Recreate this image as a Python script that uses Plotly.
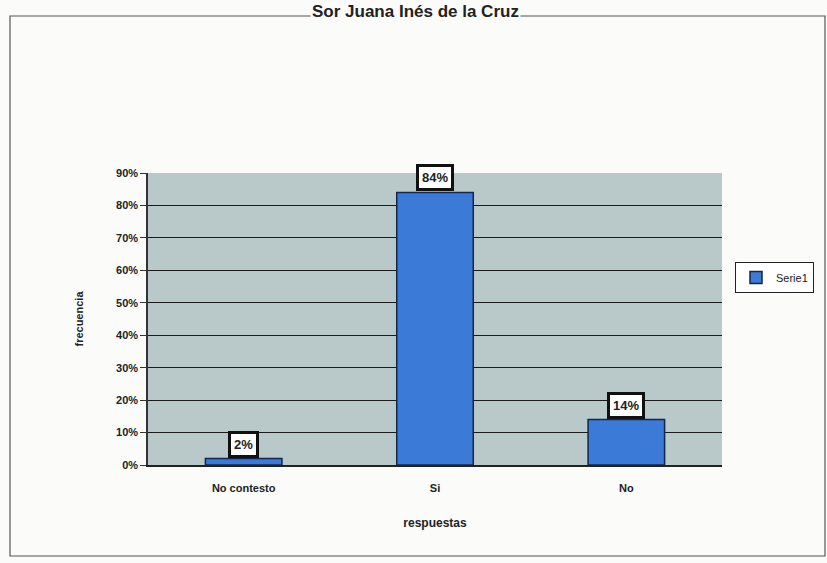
import plotly.graph_objects as go

categories = ["No contesto", "Si", "No"]
values = [2, 84, 14]
labels = ["2%", "84%", "14%"]
series_name = "Serie1"
title_text = "Sor Juana Inés de la Cruz"
y_ticks = [0, 10, 20, 30, 40, 50, 60, 70, 80, 90]

W, H = 827, 563
L, R, T, B = 148, 105, 173, 98
pw, ph = W - L - R, H - T - B

def px_x(p):
    return (p - L) / pw

def px_y(p):
    return (H - B - p) / ph

fig = go.Figure()
fig.add_trace(go.Bar(
    x=categories, y=values, name=series_name,
    marker=dict(color="#3b7ad6", line=dict(color="#14264a", width=1.5)),
    width=0.4, showlegend=True,
))

annotations = []
for c, v, t in zip(categories, values, labels):
    annotations.append(dict(
        x=c, y=v, xref="x", yref="y", text="<b>" + t + "</b>", showarrow=False,
        yanchor="bottom", yshift=1, font=dict(family="Arial", size=13, color="#222"),
        bgcolor="white", bordercolor="#111", borderwidth=3, borderpad=3,
    ))
annotations.append(dict(
    x=px_x(415), y=px_y(12), xref="paper", yref="paper", text="<b>" + title_text + "</b>",
    showarrow=False, font=dict(family="Arial", size=17, color="#222"),
    xanchor="center", yanchor="middle", bgcolor="#fbfbfa",
))

shapes = [
    dict(type="rect", xref="paper", yref="paper",
         x0=px_x(10), x1=px_x(825), y0=px_y(556), y1=px_y(16),
         line=dict(color="#555", width=1.2), layer="below"),
]

fig.update_layout(
    width=W, height=H,
    margin=dict(l=L, r=R, t=T, b=B),
    paper_bgcolor="#fbfbfa",
    plot_bgcolor="#b9c9c9",
    bargap=0.6,
    font=dict(family="Arial", size=11, color="#222"),
    xaxis=dict(
        title=dict(text="<b>respuestas</b>", font=dict(size=12), standoff=26),
        showline=True, linecolor="#222", linewidth=1.5,
        tickfont=dict(size=11), ticks="", showgrid=False,
        ticklabelstandoff=12,
        tickvals=categories, ticktext=[f"<b>{c}</b>" for c in categories],
    ),
    yaxis=dict(
        title=dict(text="<b>frecuencia</b>", font=dict(size=11), standoff=30),
        range=[0, 90], tickvals=y_ticks, ticktext=[f"<b>{v}%</b>" for v in y_ticks],
        showgrid=True, gridcolor="#1a1a1a", gridwidth=1.2,
        showline=True, linecolor="#333", linewidth=1.5,
        ticks="outside", ticklen=6, tickcolor="#333",
        tickfont=dict(size=11), zeroline=False,
    ),
    legend=dict(
        x=px_x(735), y=px_y(262), xanchor="left", yanchor="top",
        bordercolor="#222", borderwidth=1, bgcolor="white",
        font=dict(size=11), itemwidth=30,
    ),
    annotations=annotations,
    shapes=shapes,
)

fig.write_html("out.html", config={"displayModeBar": False},
               post_script="document.body.style.margin='0';")
